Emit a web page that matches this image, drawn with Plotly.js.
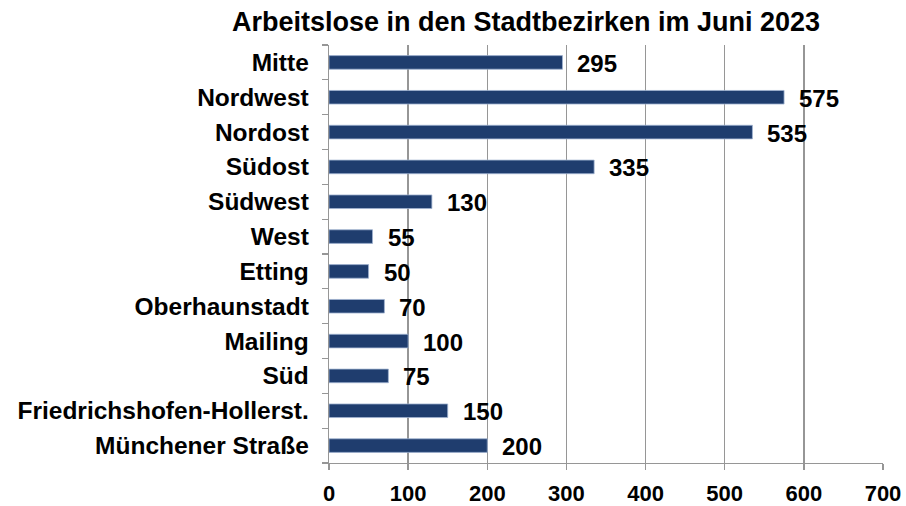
<!DOCTYPE html>
<html>
<head>
<meta charset="utf-8">
<script src="https://cdn.plot.ly/plotly-3.0.1.min.js"></script>
<style>html,body{margin:0;padding:0;background:#fff;}#chart{width:906px;height:506px;}</style>
</head>
<body>
<div id="chart"></div>
<script>
const categories = ["Mitte","Nordwest","Nordost","Südost","Südwest","West","Etting","Oberhaunstadt","Mailing","Süd","Friedrichshofen-Hollerst.","Münchener Straße"];
const values = [295,575,535,335,130,55,50,70,100,75,150,200];
const xTicks = [0,100,200,300,400,500,600,700];
const titleText = "Arbeitslose in den Stadtbezirken im Juni 2023";

const F = "Arial";
const gridCol = "#969696";

const trace = {
  type: "bar",
  orientation: "h",
  x: values,
  y: categories,
  marker: {color: "#1F3D6E", line: {color: "#9FB3D1", width: 0.8}},
  hoverinfo: "x+y"
};

const annotations = values.map((v, i) => ({
  x: v, y: categories[i], xref: "x", yref: "y",
  text: "<b>" + v + "</b>", showarrow: false, xanchor: "left", yanchor: "middle",
  xshift: 13, yshift: -1,
  font: {family: F, size: 24, color: "#000"}
}));

const layout = {
  width: 906, height: 506,
  paper_bgcolor: "#fff", plot_bgcolor: "#fff",
  margin: {l: 329, r: 23, t: 45, b: 43, pad: 0},
  showlegend: false,
  bargap: 0.61,
  title: {
    text: "<b>" + titleText + "</b>",
    font: {family: F, size: 27, color: "#000"},
    x: 526/906, xref: "container", xanchor: "center",
    y: 1 - 22/506, yref: "container", yanchor: "middle"
  },
  xaxis: {
    range: [0, 700], tickvals: xTicks, ticktext: xTicks.map(v => "<b>" + v + "</b>"),
    showgrid: true, gridcolor: gridCol, gridwidth: 1.3,
    showline: true, linecolor: gridCol, linewidth: 1.3,
    ticks: "outside", ticklen: 6, tickcolor: gridCol, tickwidth: 1.3,
    ticklabelstandoff: 4,
    zeroline: false, fixedrange: true,
    tickfont: {family: F, size: 22, color: "#000"}
  },
  yaxis: {
    type: "category", autorange: "reversed",
    showgrid: false,
    showline: true, linecolor: gridCol, linewidth: 1.3,
    ticks: "outside", tickson: "boundaries", ticklen: 6, tickcolor: gridCol, tickwidth: 1.3,
    ticklabelstandoff: 14,
    zeroline: false, fixedrange: true,
    tickfont: {family: F, size: 24.5, color: "#000"}
  },
  annotations: annotations
};
layout.yaxis.ticktext = categories.map(c => "<b>" + c + "</b>");
layout.yaxis.tickvals = categories;

Plotly.newPlot("chart", [trace], layout, {displayModeBar: false, staticPlot: true});
</script>
</body>
</html>
